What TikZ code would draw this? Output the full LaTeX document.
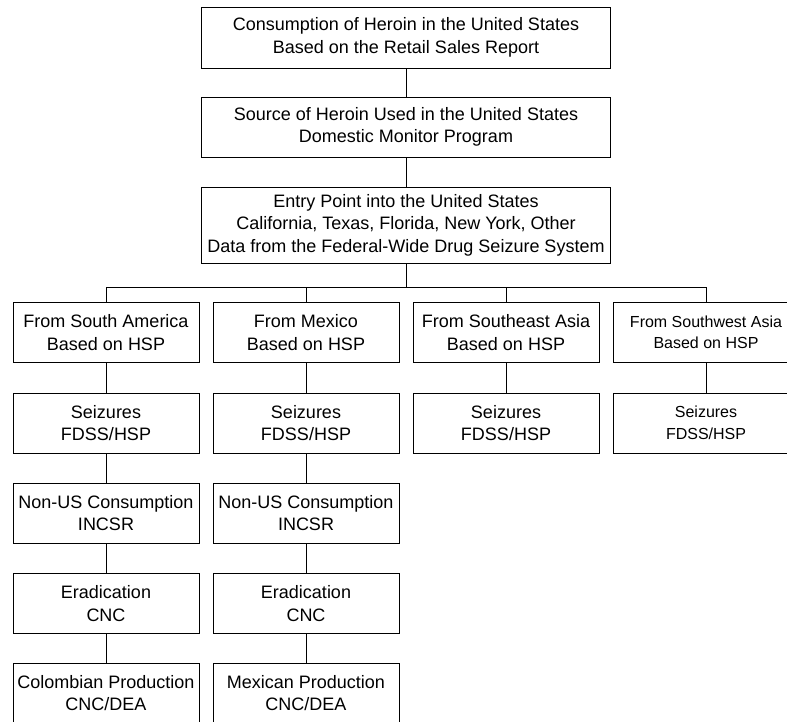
\documentclass[tikz,border=0pt]{standalone}
\usepackage{fontspec}
\setmainfont{Liberation Sans}
\usepackage{tikz}
\tikzstyle{box} = [rectangle, draw, line width=0.9pt, align=center, inner sep=0pt, minimum width=186pt, minimum height=60pt, font=\fontsize{18}{22.5}\selectfont]
\tikzstyle{wide} = [box, minimum width=409pt]
\tikzstyle{small} = [box, font=\fontsize{16}{21.5}\selectfont]
\tikzstyle{link} = [line width=0.9pt]

\begin{document}
\begin{tikzpicture}[x=1pt, y=-1pt]
    \useasboundingbox (0,0) rectangle (787,722);
    \node[wide, minimum height=61pt] (consume) at (406,37.5) {Consumption of Heroin in the United States\\Based on the Retail Sales Report};
    \node[wide] (source) at (406,127) {Source of Heroin Used in the United States\\Domestic Monitor Program};
    \draw[link] (consume) -- (source);
    \node[wide, minimum height=76pt] (entry) at (406,225) {Entry Point into the United States\\California, Texas, Florida, New York, Other\\Data from the Federal-Wide Drug Seizure System};
    \draw[link] (source) -- (entry);
    \coordinate (bus) at (406,287);
    \draw[link] (entry) -- (bus);
    \node[box] (samer) at (106,332.5) {From South America\\Based on HSP};
    \node[box] (mexico) at (306,332.5) {From Mexico\\Based on HSP};
    \node[box] (seasia) at (506,332.5) {From Southeast Asia\\Based on HSP};
    \node[small] (swasia) at (706,332.5) {From Southwest Asia\\Based on HSP};
    \draw[link] (samer) |- (bus);
    \draw[link] (mexico) |- (bus);
    \draw[link] (seasia) |- (bus);
    \draw[link] (swasia) |- (bus);
    \node[box] (seizsa) at (106,423) {Seizures\\FDSS/HSP};
    \node[box] (seizmx) at (306,423) {Seizures\\FDSS/HSP};
    \node[box] (seizse) at (506,423) {Seizures\\FDSS/HSP};
    \node[small] (seizsw) at (706,423) {Seizures\\FDSS/HSP};
    \draw[link] (seasia) -- (seizse);
    \draw[link] (swasia) -- (seizsw);
    \node[box] (nonussa) at (106,513) {Non-US Consumption\\INCSR};
    \node[box] (nonusmx) at (306,513) {Non-US Consumption\\INCSR};
    \node[box] (eradsa) at (106,603.5) {Eradication\\CNC};
    \node[box] (eradmx) at (306,603.5) {Eradication\\CNC};
    \node[box] (prodsa) at (106,693) {Colombian Production\\CNC/DEA};
    \node[box] (prodmx) at (306,693) {Mexican Production\\CNC/DEA};
    \draw[link] (samer) -- (seizsa) -- (nonussa) -- (eradsa) -- (prodsa);
    \draw[link] (mexico) -- (seizmx) -- (nonusmx) -- (eradmx) -- (prodmx);
\end{tikzpicture}
\end{document}
